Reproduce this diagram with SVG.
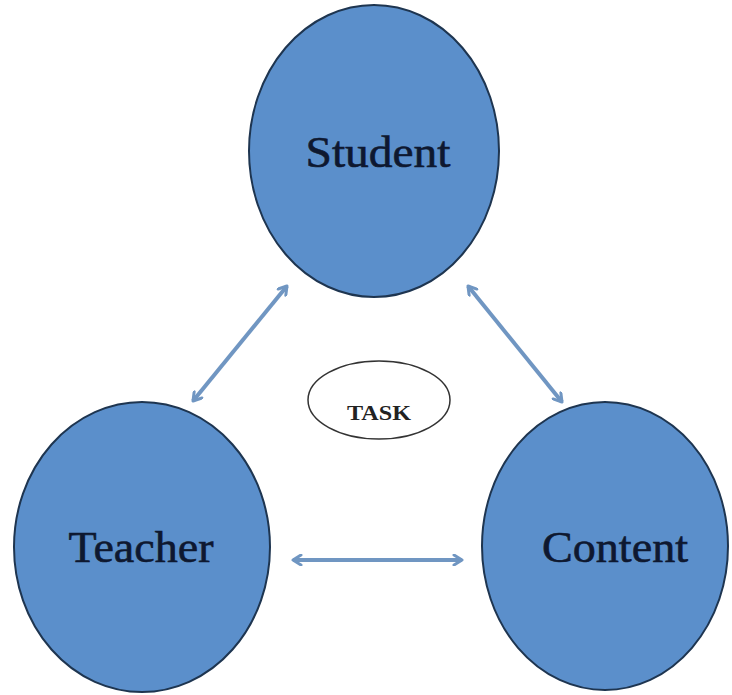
<svg xmlns="http://www.w3.org/2000/svg" width="732" height="695" viewBox="0 0 732 695">
<style>
.node{fill:#5b8fcb;stroke:#1e3550;stroke-width:2}
.lbl{font-family:"Liberation Serif","Times New Roman",serif;font-size:44px;fill:#0e1830;stroke:#0e1830;stroke-width:0.6;text-anchor:middle}
.task{fill:#ffffff;stroke:#333333;stroke-width:1.5}
.tlbl{font-family:"Liberation Serif","Times New Roman",serif;font-size:22px;font-weight:bold;fill:#222222;text-anchor:middle}
.conn{stroke:#7096c2;stroke-width:4;fill:none;marker-start:url(#ah);marker-end:url(#ah)}
</style>
<defs>
<marker id="ah" viewBox="0 0 12 12" refX="10" refY="6" markerWidth="12" markerHeight="12" markerUnits="userSpaceOnUse" orient="auto-start-reverse">
<path d="M2,1 L10,6 L2,11" fill="none" stroke="#7096c2" stroke-width="3" stroke-linecap="round" stroke-linejoin="round"/>
</marker>
</defs>
<rect width="732" height="695" fill="#ffffff"/>
<g id="connectors">
<line class="conn" x1="193" y1="401" x2="287" y2="286"/>
<line class="conn" x1="468" y1="286" x2="562" y2="402"/>
<line class="conn" x1="293" y1="560" x2="462" y2="560"/>
</g>
<g id="student">
<ellipse class="node" cx="374" cy="151" rx="125" ry="146"/>
<text class="lbl" x="378" y="167" textLength="145" lengthAdjust="spacingAndGlyphs">Student</text>
</g>
<g id="teacher">
<ellipse class="node" cx="142" cy="547" rx="128" ry="145"/>
<text class="lbl" x="141" y="562" textLength="145" lengthAdjust="spacingAndGlyphs">Teacher</text>
</g>
<g id="content">
<ellipse class="node" cx="605" cy="546" rx="123" ry="144"/>
<text class="lbl" x="615" y="562" textLength="146" lengthAdjust="spacingAndGlyphs">Content</text>
</g>
<g id="task">
<ellipse class="task" cx="379" cy="400" rx="71" ry="39"/>
<text class="tlbl" x="379" y="420" textLength="64" lengthAdjust="spacingAndGlyphs">TASK</text>
</g>
</svg>
